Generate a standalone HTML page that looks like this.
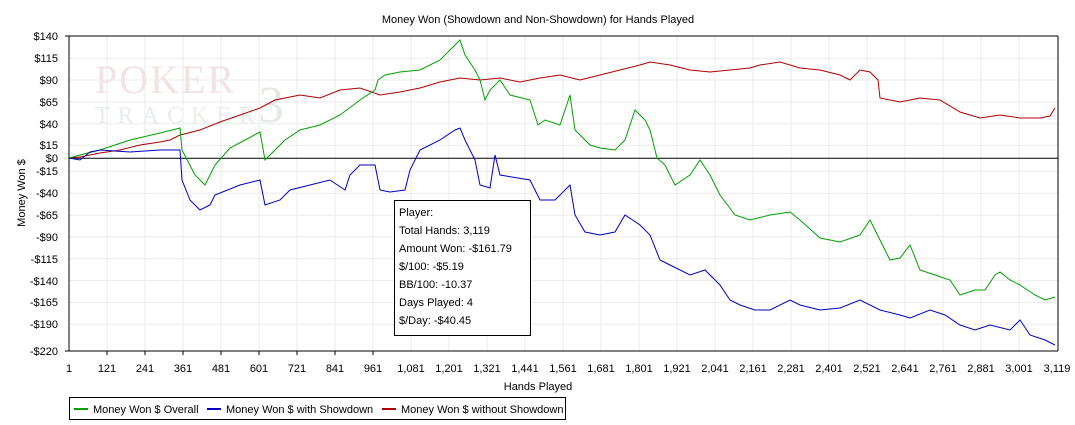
<!DOCTYPE html>
<html><head><meta charset="utf-8"><style>
body{margin:0;background:#fff}
svg{display:block;font-family:"Liberation Sans",Arial,sans-serif;font-size:11px}
</style></head><body>
<svg width="1075" height="425" viewBox="0 0 1075 425">
<rect width="1075" height="425" fill="#fff"/>
<text x="538" y="23" text-anchor="middle">Money Won (Showdown and Non-Showdown) for Hands Played</text>
<!-- watermark -->
<text x="95" y="93" font-family="Liberation Serif,serif" font-size="40" fill="#f3e2e2" letter-spacing="2">POKER</text>
<text x="95" y="123" font-family="Liberation Serif,serif" font-size="24" fill="#e8eee8" letter-spacing="8">TRACKER</text>
<text x="258" y="122" font-family="Liberation Serif,serif" font-size="52" fill="#e2ebe2">3</text>
<!-- grid -->
<g stroke="#ebebeb" stroke-width="1">
<line x1="69" x2="1058" y1="58.2" y2="58.2"/><line x1="69" x2="1058" y1="80" y2="80"/><line x1="69" x2="1058" y1="101.9" y2="101.9"/><line x1="69" x2="1058" y1="123.7" y2="123.7"/><line x1="69" x2="1058" y1="145.2" y2="145.2"/><line x1="69" x2="1058" y1="171.4" y2="171.4"/><line x1="69" x2="1058" y1="193.2" y2="193.2"/><line x1="69" x2="1058" y1="215.1" y2="215.1"/><line x1="69" x2="1058" y1="236.9" y2="236.9"/><line x1="69" x2="1058" y1="258.8" y2="258.8"/><line x1="69" x2="1058" y1="280.6" y2="280.6"/><line x1="69" x2="1058" y1="302.5" y2="302.5"/><line x1="69" x2="1058" y1="324.3" y2="324.3"/>
<line x1="107" x2="107" y1="36" y2="351"/><line x1="145" x2="145" y1="36" y2="351"/><line x1="183" x2="183" y1="36" y2="351"/><line x1="221" x2="221" y1="36" y2="351"/><line x1="259" x2="259" y1="36" y2="351"/><line x1="297" x2="297" y1="36" y2="351"/><line x1="335" x2="335" y1="36" y2="351"/><line x1="373" x2="373" y1="36" y2="351"/><line x1="411" x2="411" y1="36" y2="351"/><line x1="449" x2="449" y1="36" y2="351"/><line x1="487" x2="487" y1="36" y2="351"/><line x1="525" x2="525" y1="36" y2="351"/><line x1="563" x2="563" y1="36" y2="351"/><line x1="601" x2="601" y1="36" y2="351"/><line x1="639" x2="639" y1="36" y2="351"/><line x1="677" x2="677" y1="36" y2="351"/><line x1="715" x2="715" y1="36" y2="351"/><line x1="753" x2="753" y1="36" y2="351"/><line x1="791" x2="791" y1="36" y2="351"/><line x1="829" x2="829" y1="36" y2="351"/><line x1="867" x2="867" y1="36" y2="351"/><line x1="905" x2="905" y1="36" y2="351"/><line x1="943" x2="943" y1="36" y2="351"/><line x1="981" x2="981" y1="36" y2="351"/><line x1="1019" x2="1019" y1="36" y2="351"/>
</g>
<line x1="69" x2="1058" y1="36" y2="36" stroke="#000"/>
<line x1="1058" x2="1058" y1="36" y2="351" stroke="#000"/>
<line x1="69" x2="1058" y1="158.3" y2="158.3" stroke="#000"/>
<line x1="69" x2="69" y1="36" y2="351" stroke="#000"/>
<line x1="69" x2="1058" y1="351" y2="351" stroke="#000"/>
<g stroke="#000">
<line x1="65" x2="69" y1="36" y2="36"/><line x1="65" x2="69" y1="351" y2="351"/>
<line x1="107" x2="107" y1="351" y2="355"/><line x1="145" x2="145" y1="351" y2="355"/><line x1="183" x2="183" y1="351" y2="355"/><line x1="221" x2="221" y1="351" y2="355"/><line x1="259" x2="259" y1="351" y2="355"/><line x1="297" x2="297" y1="351" y2="355"/><line x1="335" x2="335" y1="351" y2="355"/><line x1="373" x2="373" y1="351" y2="355"/>
</g>
<!-- y labels -->
<g text-anchor="end">
<text x="58" y="40">$140</text><text x="58" y="62">$115</text><text x="58" y="84">$90</text><text x="58" y="106">$65</text><text x="58" y="128">$40</text><text x="58" y="149">$15</text><text x="58" y="162">$0</text><text x="58" y="175">-$15</text><text x="58" y="197">-$40</text><text x="58" y="219">-$65</text><text x="58" y="241">-$90</text><text x="58" y="263">-$115</text><text x="58" y="285">-$140</text><text x="58" y="306">-$165</text><text x="58" y="328">-$190</text><text x="58" y="355">-$220</text>
</g>
<!-- x labels -->
<g text-anchor="middle">
<text x="69" y="372">1</text><text x="107" y="372">121</text><text x="145" y="372">241</text><text x="183" y="372">361</text><text x="221" y="372">481</text><text x="259" y="372">601</text><text x="297" y="372">721</text><text x="335" y="372">841</text><text x="373" y="372">961</text><text x="411" y="372">1,081</text><text x="449" y="372">1,201</text><text x="487" y="372">1,321</text><text x="525" y="372">1,441</text><text x="563" y="372">1,561</text><text x="601" y="372">1,681</text><text x="639" y="372">1,801</text><text x="677" y="372">1,921</text><text x="715" y="372">2,041</text><text x="753" y="372">2,161</text><text x="791" y="372">2,281</text><text x="829" y="372">2,401</text><text x="867" y="372">2,521</text><text x="905" y="372">2,641</text><text x="943" y="372">2,761</text><text x="981" y="372">2,881</text><text x="1019" y="372">3,001</text><text x="1057" y="372">3,119</text>
</g>
<text x="538" y="390" text-anchor="middle">Hands Played</text>
<text transform="translate(25,193) rotate(-90)" text-anchor="middle">Money Won $</text>
<!-- series -->
<polyline fill="none" stroke="#b00000" stroke-width="1" points="69,158 80,157 100,153 120,150 140,145 160,142 170,140 180,135 200,130 220,122 240,115 260,108 275,100 300,95 320,98 340,90 360,88 380,95 400,92 420,88 440,82 460,78 480,80 500,78 520,82 540,78 560,75 580,80 600,75 620,70 640,65 650,62 670,65 690,70 710,72 730,70 750,68 760,65 780,62 800,68 820,70 840,75 850,80 860,70 870,72 878,80 880,98 900,102 920,98 940,100 960,112 980,118 1000,115 1020,118 1040,118 1050,116 1055,108"/>
<polyline fill="none" stroke="#00a000" stroke-width="1" points="69,158 80,155 100,150 130,140 160,133 180,128 182,150 195,175 205,185 215,165 230,148 245,140 260,132 265,160 275,150 285,140 300,130 320,125 340,115 360,100 375,90 378,80 385,75 400,72 420,70 440,60 455,45 460,40 465,55 475,70 480,80 485,100 490,90 500,80 510,95 530,100 538,125 545,120 560,125 570,95 575,130 590,145 600,148 615,150 625,140 635,110 645,120 650,130 657,158 665,165 675,185 690,175 700,160 710,175 720,195 735,215 750,220 770,215 790,212 800,220 820,238 840,242 860,235 870,220 880,240 890,260 900,258 910,245 920,270 935,275 950,280 960,295 975,290 985,290 995,275 1000,272 1010,280 1020,285 1035,295 1045,300 1055,297"/>
<polyline fill="none" stroke="#0000c0" stroke-width="1" points="69,158 80,160 90,152 100,150 130,152 160,150 180,150 182,180 190,200 200,210 210,205 215,195 240,185 260,180 265,205 280,200 290,190 310,185 330,180 345,190 350,175 360,165 375,165 380,190 390,192 405,190 410,170 420,150 440,140 455,130 460,128 465,140 475,160 480,185 490,188 495,155 500,175 530,180 540,200 555,200 570,185 575,215 585,232 600,235 615,232 625,215 640,225 650,235 660,260 670,265 690,275 705,270 720,285 730,300 740,305 755,310 770,310 790,300 800,305 820,310 840,308 860,300 880,310 900,315 910,318 930,310 945,315 960,325 975,330 990,325 1010,330 1020,320 1030,335 1045,340 1055,345"/>
<!-- tooltip -->
<rect x="394.5" y="200.5" width="136" height="135" fill="#fff" stroke="#000"/>
<g font-size="11"><text x="399" y="216">Player:</text><text x="399" y="234">Total Hands: 3,119</text><text x="399" y="252">Amount Won: -$161.79</text><text x="399" y="270">$/100: -$5.19</text><text x="399" y="288">BB/100: -10.37</text><text x="399" y="306">Days Played: 4</text><text x="399" y="324">$/Day: -$40.45</text></g>
<!-- legend -->
<rect x="69.5" y="397.5" width="496" height="22" fill="#fff" stroke="#000"/>
<line x1="74" x2="88" y1="409" y2="409" stroke="#00a000" stroke-width="2"/><text x="93" y="413">Money Won $ Overall</text>
<line x1="207" x2="221" y1="409" y2="409" stroke="#0000c0" stroke-width="2"/><text x="226" y="413">Money Won $ with Showdown</text>
<line x1="382" x2="396" y1="409" y2="409" stroke="#b00000" stroke-width="2"/><text x="401" y="413">Money Won $ without Showdown</text>
</svg>
</body></html>
